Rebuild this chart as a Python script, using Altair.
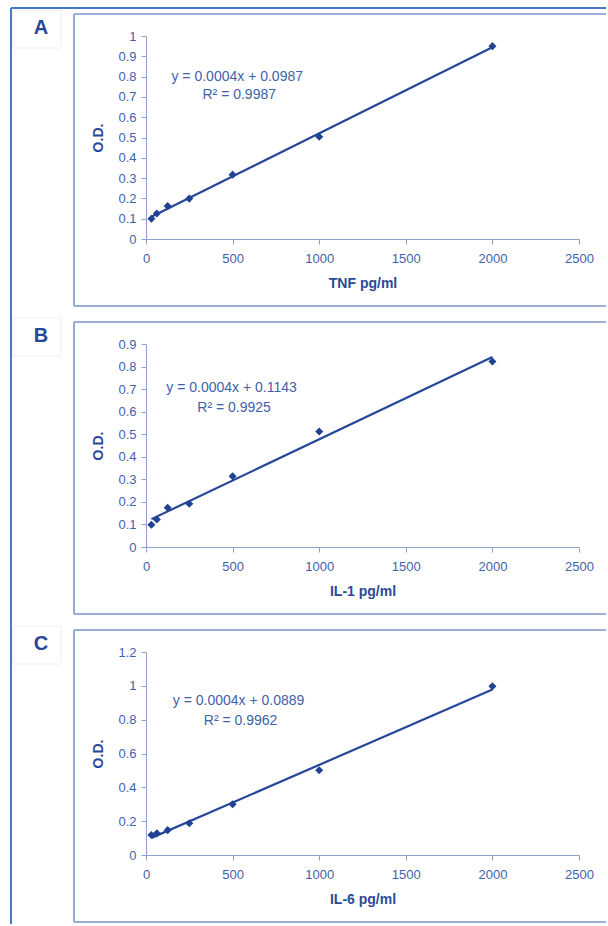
import altair as alt
import pandas as pd

# Standard-curve concentrations (pg/ml), shared by all three cytokines
conc = [31.25, 62.5, 125, 250, 500, 1000, 2000]

# Measured optical densities
tnf_od = [0.100, 0.126, 0.162, 0.199, 0.317, 0.504, 0.950]
il1_od = [0.099, 0.122, 0.174, 0.192, 0.314, 0.512, 0.822]
il6_od = [0.118, 0.128, 0.147, 0.188, 0.300, 0.501, 0.997]

# Axis ticks
x_ticks = [0, 500, 1000, 1500, 2000, 2500]
y_ticks_a = [0, 0.1, 0.2, 0.3, 0.4, 0.5, 0.6, 0.7, 0.8, 0.9, 1.0]
y_ticks_b = [0, 0.1, 0.2, 0.3, 0.4, 0.5, 0.6, 0.7, 0.8, 0.9]
y_ticks_c = [0, 0.2, 0.4, 0.6, 0.8, 1.0, 1.2]

# Panel letters, axis titles and trendline annotations
letters = ["A", "B", "C"]
x_titles = ["TNF pg/ml", "IL-1 pg/ml", "IL-6 pg/ml"]
equations = ["y = 0.0004x + 0.0987", "y = 0.0004x + 0.1143", "y = 0.0004x + 0.0889"]
r_squared = ["R\u00b2 = 0.9987", "R\u00b2 = 0.9925", "R\u00b2 = 0.9962"]
eq_pos = [(147, 0.800), (117, 0.703), (155, 0.911)]
r2_pos = [(326, 0.709), (296, 0.616), (334, 0.793)]

FONT = "Liberation Sans"
LABEL_BLUE = "#3f62aa"
TITLE_BLUE = "#2a4a96"
LINE_BLUE = "#24479a"
FRAME_BLUE = "#7b95c9"
OUTER_BLUE = "#4a77c6"

W, H = 433, 203
ONE = pd.DataFrame({"k": [0]})


def hline(x1, x2, y, color, width):
    return (
        alt.Chart(ONE)
        .mark_rule(color=color, strokeWidth=width)
        .encode(x=alt.value(x1), x2=alt.value(x2), y=alt.value(y))
    )


def vline(x, y1, y2, color, width):
    return (
        alt.Chart(ONE)
        .mark_rule(color=color, strokeWidth=width)
        .encode(x=alt.value(x), y=alt.value(y1), y2=alt.value(y2))
    )


def panel(idx, od, y_ticks, outer=False):
    ymax = y_ticks[-1]
    df = pd.DataFrame({"conc": conc, "od": od})
    xenc = alt.X(
        "conc:Q",
        scale=alt.Scale(domain=[0, 2500], nice=False),
        axis=alt.Axis(values=x_ticks, format="d", title=x_titles[idx]),
    )
    yenc = alt.Y(
        "od:Q",
        scale=alt.Scale(domain=[0, ymax], nice=False),
        axis=alt.Axis(values=y_ticks, format="~g", title="O.D."),
    )

    fit = (
        alt.Chart(df)
        .transform_regression("conc", "od")
        .mark_line(color=LINE_BLUE, strokeWidth=2.2)
        .encode(x=xenc, y=yenc)
    )
    pts = (
        alt.Chart(df)
        .mark_point(shape="diamond", filled=True, size=65, color="#1f4392", opacity=1)
        .encode(x=xenc, y=yenc)
    )

    ann = pd.DataFrame(
        {
            "conc": [eq_pos[idx][0], r2_pos[idx][0]],
            "od": [eq_pos[idx][1], r2_pos[idx][1]],
            "label": [equations[idx], r_squared[idx]],
        }
    )
    notes = (
        alt.Chart(ann)
        .mark_text(align="left", baseline="middle", font=FONT, fontSize=14, color=LABEL_BLUE)
        .encode(x=xenc, y=yenc, text="label:N")
    )

    # panel frame: left, top and bottom edges, running off to the right
    frame = [
        vline(-72, -22, 270, FRAME_BLUE, 1.6),
        hline(-72, 460, -22, FRAME_BLUE, 1.6),
        hline(-72, 460, 270, FRAME_BLUE, 1.6),
    ]
    tag_box = (
        alt.Chart(ONE)
        .mark_rect(fillOpacity=0, stroke="#eeeeee", strokeWidth=1)
        .encode(x=alt.value(-133), x2=alt.value(-85), y=alt.value(-26), y2=alt.value(12))
    )
    tag = (
        alt.Chart(ONE)
        .mark_text(font=FONT, fontSize=20, fontWeight="bold", color="#27479a",
                   align="center", baseline="middle")
        .encode(x=alt.value(-105), y=alt.value(-8), text=alt.value(letters[idx]))
    )

    layers = [tag_box] + frame + [tag, fit, pts, notes]
    if outer:
        layers = [
            vline(-135, -28, 888, OUTER_BLUE, 2),
            hline(-135, 460, -28, OUTER_BLUE, 2),
        ] + layers
    return alt.layer(*layers).properties(width=W, height=H)


chart = (
    alt.vconcat(
        panel(0, tnf_od, y_ticks_a, outer=True),
        panel(1, il1_od, y_ticks_b),
        panel(2, il6_od, y_ticks_c),
        spacing=105,
        bounds="flush",
    )
    .properties(
        padding={"left": 10, "top": 7, "right": 0, "bottom": 0},
        background="white",
    )
    .configure_view(strokeWidth=0)
    .configure_axis(
        grid=False,
        labelFont=FONT,
        labelFontSize=13,
        labelColor=LABEL_BLUE,
        labelFlush=False,
        titleFont=FONT,
        titleFontSize=14,
        titleFontWeight="bold",
        titleColor=TITLE_BLUE,
        domainColor="#8ea2cb",
        tickColor="#8ea2cb",
        tickSize=5,
    )
    .configure_axisX(labelPadding=8, titlePadding=11)
    .configure_axisY(labelPadding=5, titlePadding=12)
)

chart.save("out.html", embed_options={"renderer": "svg", "actions": False})
